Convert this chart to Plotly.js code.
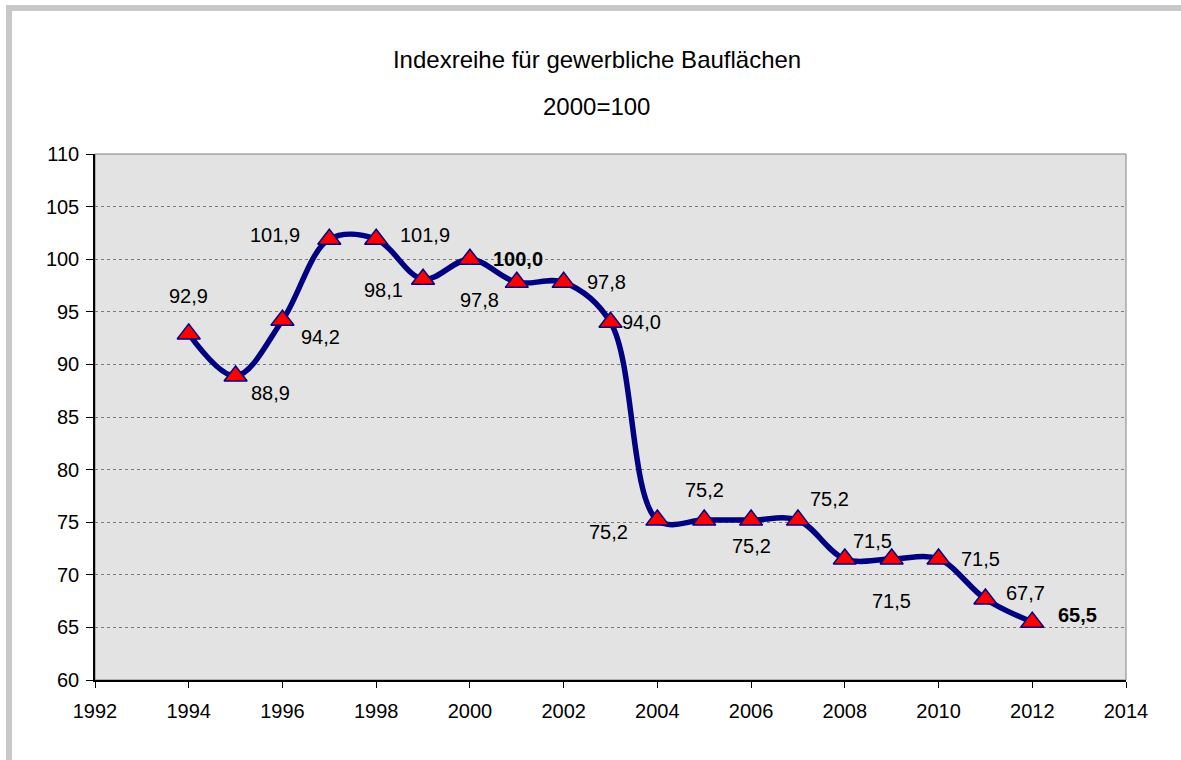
<!DOCTYPE html>
<html>
<head>
<meta charset="utf-8">
<script src="https://cdn.plot.ly/plotly-3.0.1.min.js"></script>
<style>
  html, body { margin: 0; padding: 0; background: #ffffff; }
  #wrap { position: relative; width: 1181px; height: 760px; overflow: hidden; }
  #chart { position: absolute; left: 0; top: 0; width: 1181px; height: 760px; }
  #frame { position: absolute; left: 6px; top: 5px; width: 1200px; height: 800px;
           border-left: 6px solid #c8c8c8; border-top: 6px solid #c8c8c8; pointer-events: none; }
</style>
</head>
<body>
<div id="wrap">
  <div id="chart"></div>
  <div id="frame"></div>
</div>
<script>
// ---- data ----
const years = [1994, 1995, 1996, 1997, 1998, 1999, 2000, 2001, 2002, 2003,
               2004, 2005, 2006, 2007, 2008, 2009, 2010, 2011, 2012];
const indexValues = [92.9, 88.9, 94.2, 101.9, 101.9, 98.1, 100.0, 97.8, 97.8, 94.0,
                     75.2, 75.2, 75.2, 75.2, 71.5, 71.5, 71.5, 67.7, 65.5];
const labelTexts = ["92,9", "88,9", "94,2", "101,9", "101,9", "98,1", "100,0", "97,8", "97,8", "94,0",
                    "75,2", "75,2", "75,2", "75,2", "71,5", "71,5", "71,5", "67,7", "65,5"];
const boldLabels = [2000, 2012];
const xTickVals = [1992, 1994, 1996, 1998, 2000, 2002, 2004, 2006, 2008, 2010, 2012, 2014];
const yTickVals = [60, 65, 70, 75, 80, 85, 90, 95, 100, 105, 110];
const titleLine1 = "Indexreihe für gewerbliche Bauflächen";
const titleLine2 = "2000=100";

// label placement offsets in pixels (dx right, dy down)
const labelOffsets = [
  [0, -38], [35, 17], [38, 17], [-54, -4], [49, -4], [-40, 11], [48, 0], [-37, 18], [43, 0], [31, 0],
  [-49, 12], [0, -30], [0, 26], [32, -21], [28, -18], [0, 42], [42, 0], [40, -6], [45, -7]
];

const FONT = "Liberation Sans, Arial, Helvetica, sans-serif";

const trace = {
  x: years,
  y: indexValues,
  type: "scatter",
  mode: "lines+markers",
  line: { color: "#000080", width: 5.5, shape: "spline", smoothing: 1 },
  marker: { symbol: "triangle-up", size: 20, color: "#ff0000", line: { color: "#000080", width: 1.5 } },
  hoverinfo: "x+y",
  showlegend: false
};

const annotations = years.map((yr, i) => ({
  x: yr, y: indexValues[i], xref: "x", yref: "y",
  text: boldLabels.includes(yr) ? "<b>" + labelTexts[i] + "</b>" : labelTexts[i],
  showarrow: false,
  xshift: labelOffsets[i][0], yshift: -labelOffsets[i][1],
  font: { family: FONT, size: 20, color: "#000000" },
  xanchor: "center", yanchor: "middle"
}));

annotations.push({
  xref: "paper", yref: "paper", x: 0.486, y: (680 - 107) / 526,
  text: titleLine2, showarrow: false, xanchor: "center", yanchor: "middle",
  font: { family: FONT, size: 24, color: "#000000" }
});

const layout = {
  width: 1181, height: 760,
  margin: { l: 95, r: 55, t: 154, b: 80 },
  paper_bgcolor: "#ffffff",
  plot_bgcolor: "#e3e3e3",
  font: { family: FONT, size: 20, color: "#000000" },
  title: {
    text: titleLine1,
    font: { family: FONT, size: 24, color: "#000000" },
    x: 0.487, xanchor: "center", xref: "paper",
    y: (760 - 60) / 760, yanchor: "middle", yref: "container"
  },
  xaxis: {
    range: [1992, 2014], tickvals: xTickVals, ticktext: xTickVals.map(String),
    showgrid: false, zeroline: false,
    showline: true, linecolor: "#000000", linewidth: 1.5,
    ticks: "outside", ticklen: 6, tickcolor: "#000000", tickwidth: 1,
    ticklabelstandoff: 6,
    tickfont: { family: FONT, size: 20, color: "#000000" }
  },
  yaxis: {
    range: [60, 110], tickvals: yTickVals, ticktext: yTickVals.map(String),
    showgrid: true, gridcolor: "#7a7a7a", griddash: "dot", gridwidth: 1,
    zeroline: false,
    showline: true, linecolor: "#000000", linewidth: 1.5,
    ticks: "outside", ticklen: 7, tickcolor: "#000000", tickwidth: 1,
    ticklabelstandoff: 3,
    tickfont: { family: FONT, size: 20, color: "#000000" }
  },
  shapes: [
    { type: "rect", xref: "paper", yref: "paper", x0: 0, x1: 1, y0: 0, y1: 1,
      line: { color: "#808080", width: 1 }, fillcolor: "rgba(0,0,0,0)", layer: "below" }
  ],
  annotations: annotations
};

Plotly.newPlot("chart", [trace], layout, { displayModeBar: false });
</script>
</body>
</html>
